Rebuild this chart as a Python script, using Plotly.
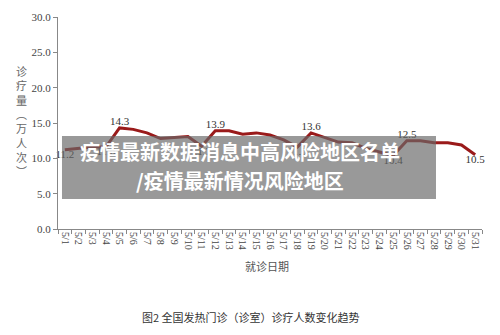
import plotly.graph_objects as go

dates = [f"5/{d}" for d in range(1, 32)]
values = [11.2, 11.4, 11.6, 11.6, 14.3, 14.1, 13.6, 12.8, 12.9, 13.1,
          11.7, 13.9, 13.9, 13.4, 13.6, 13.3, 12.6, 11.6, 13.6, 12.9,
          12.3, 12.2, 11.4, 10.9, 10.4, 12.5, 12.5, 12.2, 12.2, 11.9, 10.5]
label_idx = {0: "bottom center", 3: "bottom center", 4: "top center", 10: "bottom center",
             11: "top center", 17: "bottom center", 18: "top center", 24: "bottom center",
             25: "top center", 30: "bottom center"}
yticks = [0, 5, 10, 15, 20, 25, 30]

texts = [f"{v:.1f}" if i in label_idx else "" for i, v in enumerate(values)]
positions = [label_idx.get(i, "top center") for i in range(len(values))]

fig = go.Figure()
fig.add_trace(go.Scatter(
    x=dates, y=values, mode="lines+text",
    line=dict(color="#9a1a1a", width=3),
    text=texts, textposition=positions,
    textfont=dict(family="Liberation Serif", size=11, color="#333"),
    cliponaxis=False, showlegend=False))

serif = dict(family="Liberation Serif", size=10, color="#444")
fig.update_layout(
    width=500, height=335,
    margin=dict(l=58, r=18, t=17, b=106),
    paper_bgcolor="white", plot_bgcolor="white",
    xaxis=dict(type="category", range=[-0.5, len(dates) - 0.5], tickangle=90, tickfont=serif,
               showline=True, linecolor="#888", linewidth=1,
               ticks="outside", ticklen=4, tickcolor="#888", tickson="boundaries",
               showgrid=False, zeroline=False),
    yaxis=dict(range=[0, 30], tickvals=yticks, tickformat=".1f",
               tickfont=dict(family="Liberation Serif", size=11, color="#444"),
               showline=True, linecolor="#888", linewidth=1,
               ticks="outside", ticklen=4, tickcolor="#888",
               showgrid=False, zeroline=False),
    shapes=[dict(type="rect", xref="paper", yref="paper",
                 x0=0.0094, x1=0.8915, y0=0.1415, y1=0.4387,
                 fillcolor="rgba(105,105,105,0.68)", line=dict(width=0), layer="above")],
)

cjk = "Noto Sans CJK SC"
fig.add_annotation(xref="paper", yref="paper", x=-0.087, y=0.51,
                   text="<br>".join(list("诊疗量︵万人次︶")),
                   showarrow=False, font=dict(family=cjk, size=11, color="#666"),
                   align="center", xanchor="center", yanchor="middle")
fig.add_annotation(xref="paper", yref="paper", x=0.493, y=-0.175,
                   text="就诊日期", showarrow=False,
                   font=dict(family=cjk, size=11, color="#555"), yanchor="middle")
fig.add_annotation(xref="paper", yref="paper", x=0.455, y=-0.415,
                   text="图2 全国发热门诊（诊室）诊疗人数变化趋势", showarrow=False,
                   font=dict(family=cjk, size=11, color="#333"), yanchor="middle")
fig.add_annotation(xref="paper", yref="paper", x=0.43, y=0.365,
                   text="<b>疫情最新数据消息中高风险地区名单</b>", showarrow=False,
                   font=dict(family=cjk, size=20, color="white"), yanchor="middle")
fig.add_annotation(xref="paper", yref="paper", x=0.43, y=0.23,
                   text="<b>/疫情最新情况风险地区</b>", showarrow=False,
                   font=dict(family=cjk, size=20, color="white"), yanchor="middle")

fig.write_html("out.html")
